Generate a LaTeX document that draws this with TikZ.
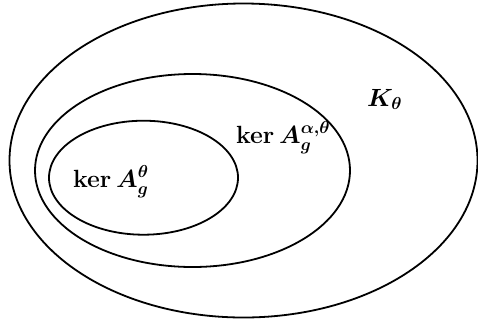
\documentclass[tikz,border=0pt]{standalone}
\usepackage{amsmath}
\begin{document}
\begin{tikzpicture}[x=1pt,y=-1pt,
  set/.style={line width=1.8pt,black},
  lab/.style={inner sep=0pt,anchor=base west,font=\fontsize{23.5}{28}\selectfont\bfseries\boldmath}]
\useasboundingbox (0,0) rectangle (478,322);
\draw[set] (243.5,160.5) ellipse [x radius=234,y radius=157];
\draw[set] (192.5,170.5) ellipse [x radius=157.5,y radius=96.5];
\draw[set] (143.5,177.7) ellipse [x radius=94.5,y radius=57];
\node[lab] (k) at (367,106) {$K_\theta$};
\node[lab] (ka) at (236,143) {$\ker A_g^{\alpha,\theta}$};
\node[lab] (kt) at (73,187) {$\ker A_g^{\theta}$};
\end{tikzpicture}
\end{document}
